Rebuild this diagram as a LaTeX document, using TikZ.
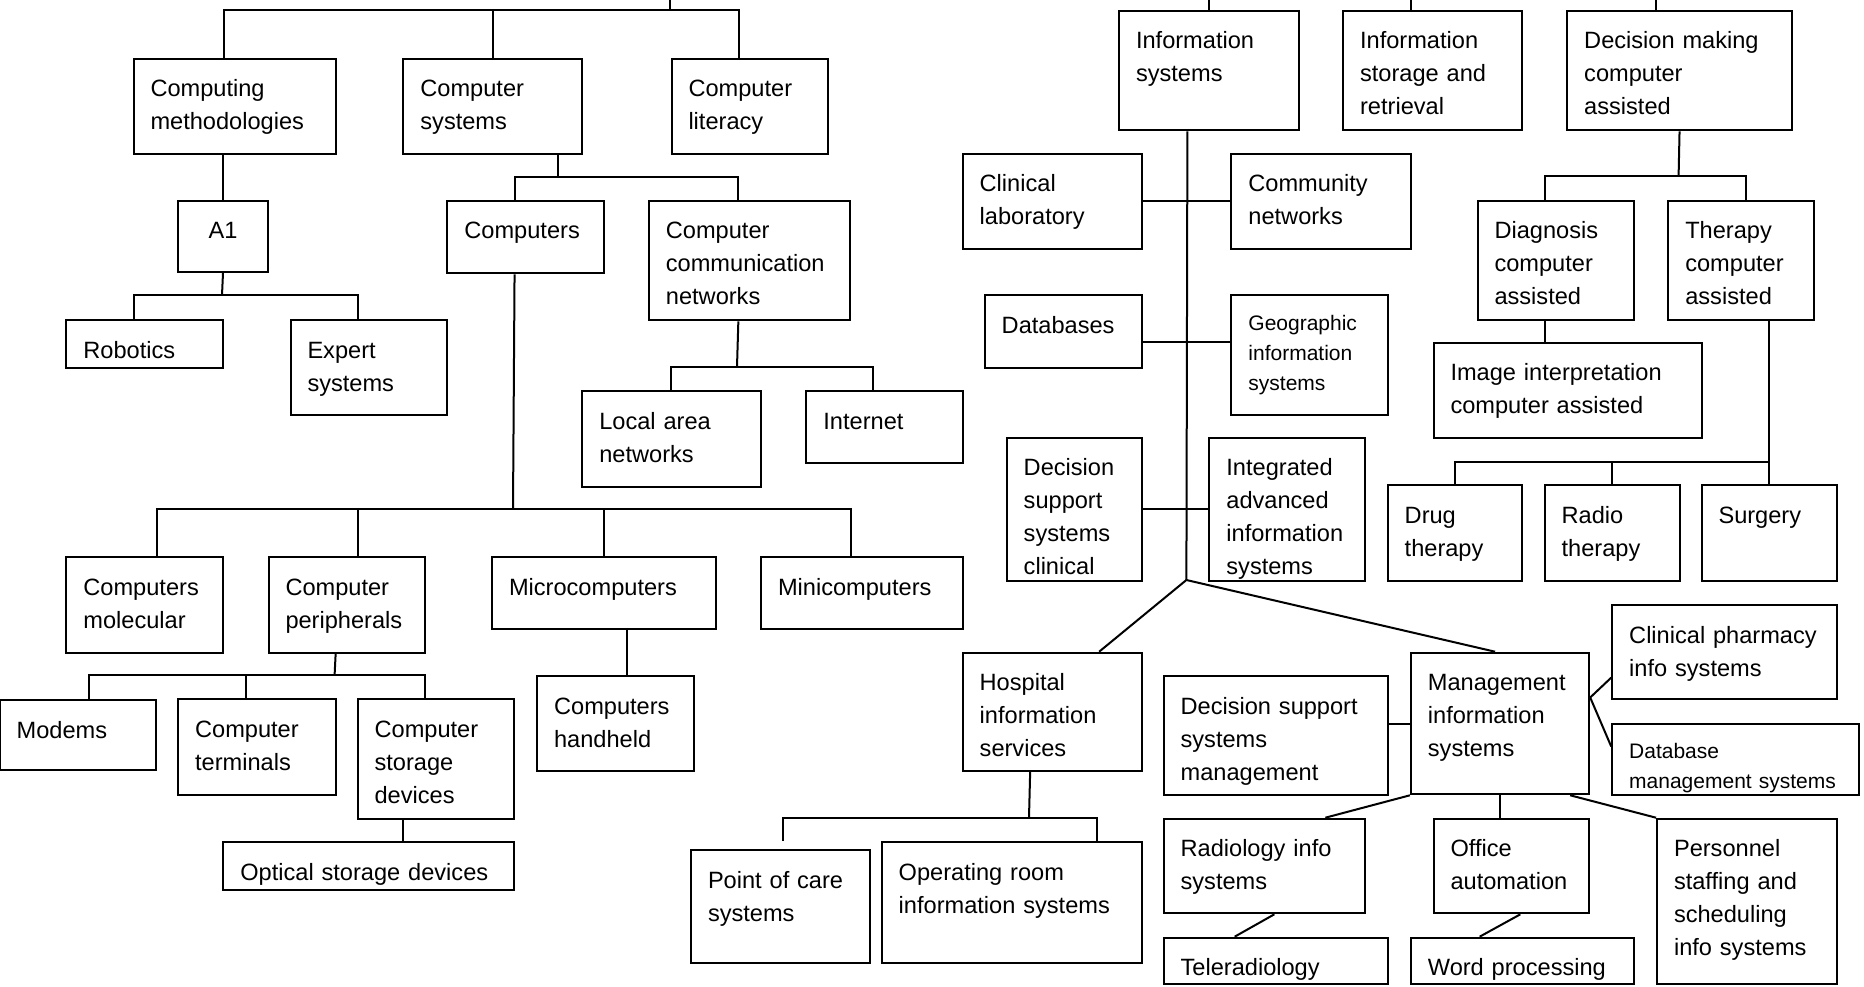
\documentclass[tikz,border=0pt]{standalone}
\usepackage{fontspec}
\setmainfont{Liberation Sans}
\usetikzlibrary{calc}

\newcommand{\cellfont}{\fontsize{23.6pt}{33pt}\selectfont}
\newcommand{\smallcellfont}{\fontsize{21pt}{30pt}\selectfont}

\begin{document}
\begin{tikzpicture}[x=1pt,y=-1pt,
  box/.style={draw,line width=2pt,anchor=north west,inner xsep=17pt,inner ysep=0pt,
    align=left,font=\cellfont,text height=38pt},
  sz/.style 2 args={text width=(#1-34)*1pt,text depth=(#2-38)*1pt},
  small/.style={font=\smallcellfont,text height=35pt},
  link/.style={line width=2pt}]
  \useasboundingbox (0,0) rectangle (1864,987);
  \coordinate (topedge) at (0,-4);

  % left tree
  \node[box,sz={202}{95.6}]   (meth)   at (132.5,57.7) {Computing\\methodologies};
  \node[box,sz={178.3}{95.6}] (csys)   at (402.4,57.7) {Computer\\systems};
  \node[box,sz={156.3}{95.6}] (lit)    at (670.5,57.7) {Computer\\literacy};
  \node[box,sz={90}{71},align=center] (aone) at (177,200) {A1};
  \node[box,sz={156.3}{72.3}] (comp)   at (446.4,200) {Computers};
  \node[box,sz={200.9}{119.3}] (ccn)   at (647.9,200) {Computer\\communication\\networks};
  \node[box,sz={156.9}{47.4}] (robo)   at (65.4,319.3) {Robotics};
  \node[box,sz={156.3}{95}]   (expert) at (289.5,319.3) {Expert\\systems};
  \node[box,sz={178.3}{95.7}] (lan)    at (581.3,390) {Local area\\networks};
  \node[box,sz={156.3}{71.7}] (inet)   at (805.4,390) {Internet};
  \node[box,sz={156.9}{95.4}] (molec)  at (65.4,556.3) {Computers\\molecular};
  \node[box,sz={156.3}{95.4}] (periph) at (267.5,556.3) {Computer\\peripherals};
  \node[box,sz={224}{71.4}]   (micro)  at (491,556.3) {Microcomputers};
  \node[box,sz={201.7}{72}]   (mini)   at (760,556) {Minicomputers};
  \node[box,sz={156.6}{70.3}] (modem)  at (-1.3,699) {Modems};
  \node[box,sz={157.5}{95.7}] (term)   at (177.1,698.3) {Computer\\terminals};
  \node[box,sz={156.4}{119.7}] (stor)  at (356.6,698.3) {Computer\\storage\\devices};
  \node[box,sz={290.7}{48}]   (optic)  at (222.3,841) {Optical storage devices};
  \node[box,sz={156.4}{95}]   (hand)   at (536.1,675) {Computers\\handheld};

  % right tree
  \node[box,sz={179.5}{119.3}] (infsys) at (1118,10) {Information\\systems};
  \node[box,sz={178.9}{119.3}] (isr)    at (1342.1,10) {Information\\storage and\\retrieval};
  \node[box,sz={224.7}{119.3}] (dmca)   at (1566.2,10) {Decision making\\computer\\assisted};
  \node[box,sz={178.9}{95.6}]  (clab)   at (961.7,152.7) {Clinical\\laboratory};
  \node[box,sz={179.5}{95.6}]  (cnet)   at (1230.4,152.7) {Community\\networks};
  \node[box,sz={156.9}{72.7}]  (dbase)  at (983.7,294.3) {Databases};
  \node[box,small,text width=122.3pt,text depth=85pt] (geo) at (1230.4,294.3) {Geographic\\information\\systems};
  \node[box,sz={156.9}{119.3}] (diag)   at (1476.5,200) {Diagnosis\\computer\\assisted};
  \node[box,sz={145.6}{119.3}] (ther)   at (1667.3,200) {Therapy\\computer\\assisted};
  \node[box,sz={268}{95.6}]    (imgint) at (1432.5,341.7) {Image interpretation\\computer assisted};
  \node[box,sz={134.9}{143.3}] (dssc)   at (1005.7,436.7) {Decision\\support\\systems\\clinical};
  \node[box,sz={155.7}{143.3}] (iais)   at (1208.4,436.7) {Integrated\\advanced\\information\\systems};
  \node[box,sz={134.3}{96}]    (drug)   at (1386.7,484) {Drug\\therapy};
  \node[box,sz={135}{96}]      (radio)  at (1543.6,484) {Radio\\therapy};
  \node[box,sz={135}{96}]      (surg)   at (1700.5,484) {Surgery};
  \node[box,sz={178.9}{118.3}] (hosp)   at (961.7,651.7) {Hospital\\information\\services};
  \node[box,sz={179.3}{112.7}] (poc)    at (690,849) {Point of care\\systems};
  \node[box,sz={260}{120.7}]   (orsys)  at (880.7,841) {Operating room\\information systems};
  \node[box,sz={224.1}{119.3}] (dssm)   at (1162.6,675) {Decision support\\systems\\management};
  \node[box,sz={178.3}{141.6}] (mis)    at (1409.9,651.7) {Management\\information\\systems};
  \node[box,sz={224.3}{94.3}]  (cpis)   at (1611.2,604) {Clinical pharmacy\\info systems};
  \node[box,small,text width=212.5pt,text depth=36.6pt] (dbms) at (1611.2,722.7) {Database\\management systems};
  \node[box,sz={201.5}{94.6}]  (radinfo) at (1162.6,817.7) {Radiology info\\systems};
  \node[box,sz={155.7}{94.6}]  (office) at (1432.5,817.7) {Office\\automation};
  \node[box,sz={179.5}{165.6}] (staff)  at (1656,817.7) {Personnel\\staffing and\\scheduling\\info systems};
  \node[box,sz={224.1}{46.6}]  (telerad) at (1162.6,936.7) {Teleradiology};
  \node[box,sz={223.5}{46.6}]  (wordproc) at (1409.9,936.7) {Word processing};

  % junctions
  \coordinate (barL)   at (670,10);
  \coordinate (barCS)  at (557.5,176.7);
  \coordinate (barA)   at (222,295);
  \coordinate (barCC)  at (737,366.7);
  \coordinate (barC)   at (513,509);
  \coordinate (barP)   at (334.6,675);
  \coordinate (isfoot) at (1186.4,580);
  \coordinate (isdb)   at (1186.4,341.7);
  \coordinate (barD)   at (1678.6,175.7);
  \coordinate (barT)   at (1768.3,461.7);
  \coordinate (barH)   at (1029,817.7);

  \draw[link] (barL) -- (barL |- topedge);
  \draw[link] ([xshift=-11pt]meth.north) |- (barL) -| ([xshift=-11pt]lit.north);
  \draw[link] (csys.north) -- (csys.north |- barL);
  \draw[link] (csys.south -| barCS) -- (barCS);
  \draw[link] ([xshift=-11pt]comp.north) |- (barCS) -| ([xshift=-11pt]ccn.north);
  \draw[link] (aone.north |- meth.south) -- (aone.north);
  \draw[link] (aone.south) -- (barA);
  \draw[link] ([xshift=-11pt]robo.north) |- (barA) -| ([xshift=-11pt]expert.north);
  \draw[link] ([xshift=-11pt]ccn.south) -- (barCC);
  \draw[link] (lan.north) |- (barCC) -| ([xshift=-12pt]inet.north);
  \draw[link] ([xshift=-11pt]comp.south) -- (barC);
  \draw[link] ([xshift=12pt]molec.north) |- (barC) -| ([xshift=-11pt]mini.north);
  \draw[link] ([xshift=11pt]periph.north) -- ([xshift=11pt]periph.north |- barC);
  \draw[link] (micro.north) -- (micro.north |- barC);
  \draw[link] ([xshift=-11pt]periph.south) -- (barP);
  \draw[link] ([xshift=10.7pt]modem.north) |- (barP) -| ([xshift=-11pt]stor.north);
  \draw[link] ([xshift=-11pt]term.north) -- ([xshift=-11pt]term.north |- barP);
  \draw[link] ([xshift=-33pt]stor.south) -- ([xshift=-33pt]stor.south |- optic.north);
  \draw[link] ([xshift=23pt]micro.south) -- ([xshift=23pt]micro.south |- hand.north);

  \draw[link] (infsys.north) -- (infsys.north |- topedge);
  \draw[link] ([xshift=-21.5pt]isr.north) -- ([xshift=-21.5pt]isr.north |- topedge);
  \draw[link] ([xshift=-23.5pt]dmca.north) -- ([xshift=-23.5pt]dmca.north |- topedge);
  \draw[link] ([xshift=-21.35pt]infsys.south) -- (isfoot);
  \draw[link] ([xshift=47pt]hosp.north) -- (isfoot) -- ([xshift=-5pt]mis.north);
  \draw[link] (clab.east) -- (cnet.west);
  \draw[link] (dbase.east |- isdb) -- (geo.west |- isdb);
  \draw[link] (dssc.east) -- (iais.west);
  \draw[link] (dmca.south) -- (barD);
  \draw[link] ([xshift=-11pt]diag.north) |- (barD) -| ([xshift=5pt]ther.north);
  \draw[link] ([xshift=-11pt]diag.south) -- ([xshift=-11pt]diag.south |- imgint.north);
  \draw[link] (surg.north |- ther.south) -- (surg.north);
  \draw[link] (drug.north) |- (barT);
  \draw[link] (radio.north) -- (radio.north |- barT);
  \draw[link] ([xshift=-22pt]hosp.south) -- (barH);
  \draw[link] ([xshift=2.5pt]poc.north |- orsys.north) |- (barH) -| ([xshift=85pt]orsys.north);
  \draw[link] (mis.west) -- (mis.west -| dssm.east);
  \draw[link] ($(cpis.west)+(0,25.5)$) -- ($(mis.east)+(0,-26)$) -- ($(dbms.west)+(0,-13)$);
  \draw[link] (mis.south west) -- ([xshift=61pt]radinfo.north);
  \draw[link] (mis.south) -- (mis.south |- office.north);
  \draw[link] ([xshift=-20pt]mis.south east) -- (staff.north west);
  \draw[link] ([xshift=10pt]radinfo.south) -- ([xshift=-41pt]telerad.north);
  \draw[link] ([xshift=9pt]office.south) -- ([xshift=-43pt]wordproc.north);
\end{tikzpicture}
\end{document}
